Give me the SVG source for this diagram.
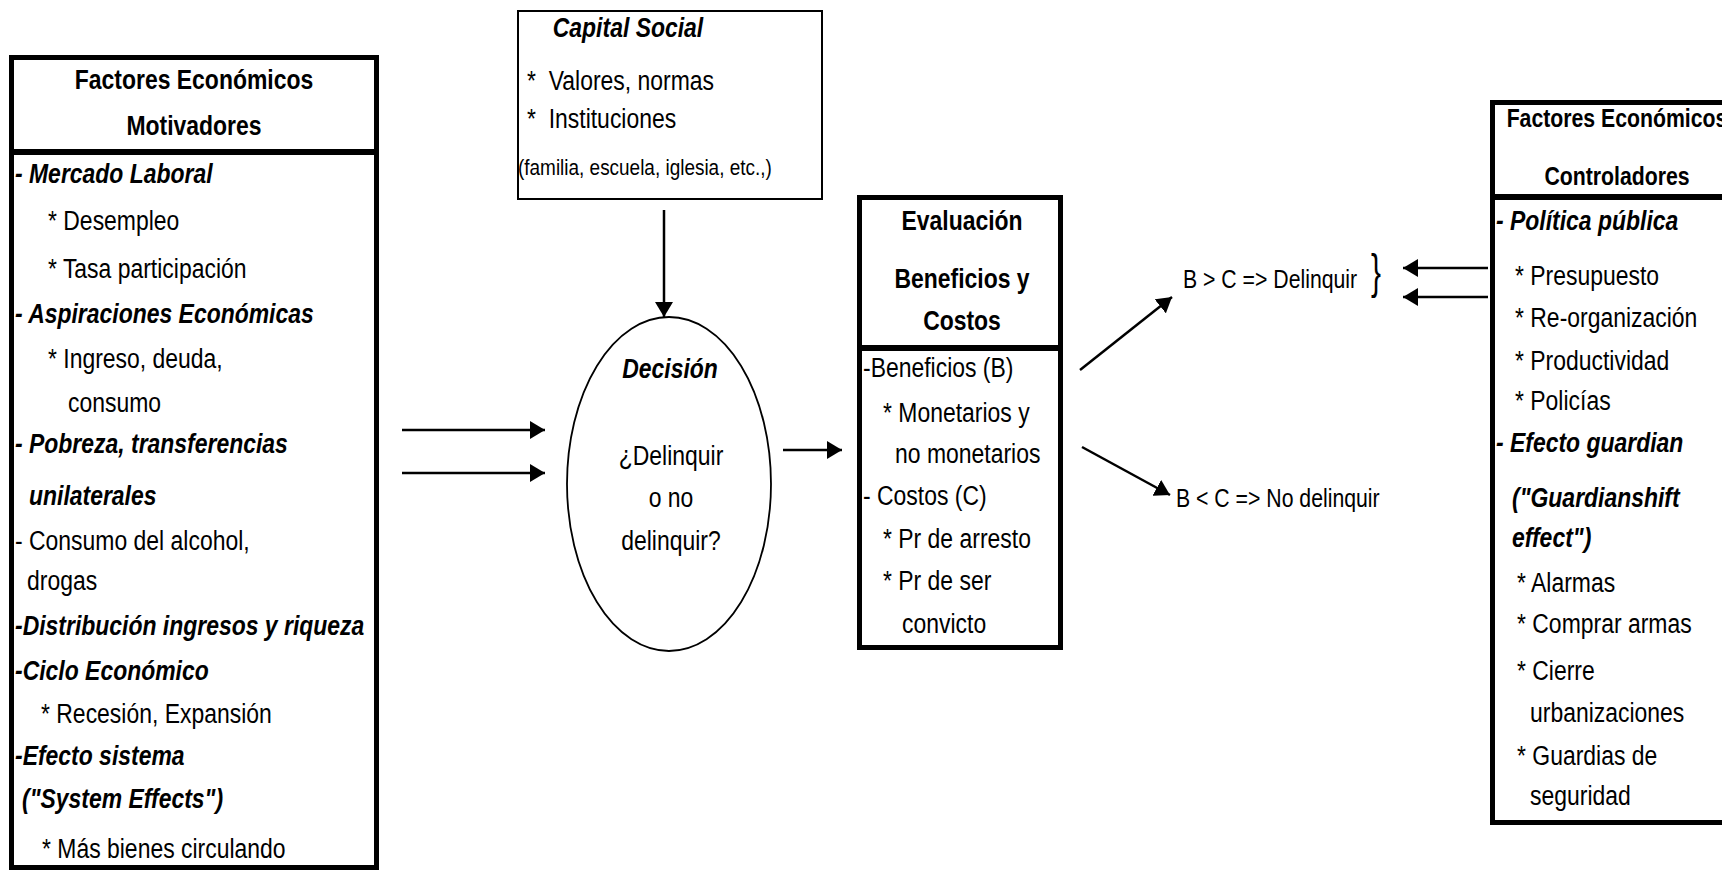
<svg xmlns="http://www.w3.org/2000/svg" width="1722" height="872" viewBox="0 0 1722 872">
<style>
text{font-family:"Liberation Sans",Arial,sans-serif;font-size:27px;fill:#000}
.b{font-weight:bold}
.bi{font-weight:bold;font-style:italic}
.m{text-anchor:middle}
.s{font-size:25px}
.xs{font-size:22.3px}
.box{fill:#fff;stroke:#000;stroke-width:5}
.thin{fill:#fff;stroke:#000;stroke-width:2}
.ln{fill:none;stroke:#000;stroke-width:2.5}
.conn line{stroke:#000;stroke-width:2.5;marker-end:url(#ah)}
</style>
<defs>
<marker id="ah" markerUnits="userSpaceOnUse" markerWidth="16" markerHeight="18" refX="15" refY="9" orient="auto">
<path d="M0,0 L15,9 L0,18 Z" fill="#000"/>
</marker>
</defs>
<rect width="1722" height="872" fill="#fff"/>

<g id="motivadores">
<rect class="box" x="11.5" y="57.5" width="365" height="810"/>
<line class="ln" x1="11.5" y1="152" x2="376.5" y2="152" style="stroke-width:6"/>
<text class="b m" transform="translate(194,89) scale(.85,1)">Factores Económicos</text>
<text class="b m" transform="translate(194,135) scale(.85,1)">Motivadores</text>
<text class="bi" transform="translate(15,183) scale(.85,1)">- Mercado Laboral</text>
<text transform="translate(48,230) scale(.85,1)">* Desempleo</text>
<text transform="translate(48,278) scale(.85,1)">* Tasa participación</text>
<text class="bi" transform="translate(15,323) scale(.85,1)">- Aspiraciones Económicas</text>
<text transform="translate(48,368) scale(.85,1)">* Ingreso, deuda,</text>
<text transform="translate(68,412) scale(.85,1)">consumo</text>
<text class="bi" transform="translate(15,453) scale(.85,1)">- Pobreza, transferencias</text>
<text class="bi" transform="translate(29,505) scale(.85,1)">unilaterales</text>
<text transform="translate(15,550) scale(.85,1)">- Consumo del alcohol,</text>
<text transform="translate(27,590) scale(.85,1)">drogas</text>
<text class="bi" transform="translate(15,635) scale(.85,1)">-Distribución ingresos y riqueza</text>
<text class="bi" transform="translate(15,680) scale(.85,1)">-Ciclo Económico</text>
<text transform="translate(41,723) scale(.85,1)">* Recesión, Expansión</text>
<text class="bi" transform="translate(15,765) scale(.85,1)">-Efecto sistema</text>
<text class="bi" transform="translate(22,808) scale(.85,1)">("System Effects")</text>
<text transform="translate(42,858) scale(.85,1)">* Más bienes circulando</text>
</g>

<g id="capital-social">
<rect class="thin" x="518" y="11" width="304" height="188"/>
<text class="bi m" transform="translate(628,37) scale(.85,1)">Capital Social</text>
<text transform="translate(527,90) scale(.85,1)">*&#160; Valores, normas</text>
<text transform="translate(527,128) scale(.85,1)">*&#160; Instituciones</text>
<text class="xs" transform="translate(518,175) scale(.85,1)">(familia, escuela, iglesia, etc.,)</text>
</g>

<g id="decision">
<ellipse cx="669" cy="484" rx="102" ry="167" fill="#fff" stroke="#000" stroke-width="1.8"/>
<text class="bi m" transform="translate(670,378) scale(.85,1)">Decisión</text>
<text class="m" transform="translate(671,465) scale(.85,1)">¿Delinquir</text>
<text class="m" transform="translate(671,507) scale(.85,1)">o no</text>
<text class="m" transform="translate(671,550) scale(.85,1)">delinquir?</text>
</g>

<g id="evaluacion">
<rect class="box" x="859.5" y="197.5" width="201" height="450"/>
<line class="ln" x1="859.5" y1="348" x2="1060.5" y2="348" style="stroke-width:6"/>
<text class="b m" transform="translate(962,230) scale(.85,1)">Evaluación</text>
<text class="b m" transform="translate(962,288) scale(.85,1)">Beneficios y</text>
<text class="b m" transform="translate(962,330) scale(.85,1)">Costos</text>
<text transform="translate(863,377) scale(.85,1)">-Beneficios (B)</text>
<text transform="translate(883,422) scale(.85,1)">* Monetarios y</text>
<text transform="translate(895,463) scale(.85,1)">no monetarios</text>
<text transform="translate(863,505) scale(.85,1)">- Costos (C)</text>
<text transform="translate(883,548) scale(.85,1)">* Pr de arresto</text>
<text transform="translate(883,590) scale(.85,1)">* Pr de ser</text>
<text transform="translate(902,633) scale(.85,1)">convicto</text>
</g>

<g id="resultados">
<text class="s" transform="translate(1183,288) scale(.85,1)">B &gt; C =&gt; Delinquir</text>
<text transform="translate(1371,288) scale(.62,1)" style="font-size:48px">}</text>
<text class="s" transform="translate(1176,507) scale(.85,1)">B &lt; C =&gt; No delinquir</text>
</g>

<g id="controladores">
<rect class="box" x="1492.5" y="102.5" width="260" height="720"/>
<line class="ln" x1="1492.5" y1="197" x2="1722" y2="197" style="stroke-width:6"/>
<text class="b m s" transform="translate(1617,127) scale(.85,1)">Factores Económicos</text>
<text class="b m s" transform="translate(1617,185) scale(.85,1)">Controladores</text>
<text class="bi" transform="translate(1496,230) scale(.85,1)">- Política pública</text>
<text transform="translate(1515,285) scale(.85,1)">* Presupuesto</text>
<text transform="translate(1515,327) scale(.85,1)">* Re-organización</text>
<text transform="translate(1515,370) scale(.85,1)">* Productividad</text>
<text transform="translate(1515,410) scale(.85,1)">* Policías</text>
<text class="bi" transform="translate(1496,452) scale(.85,1)">- Efecto guardian</text>
<text class="bi" transform="translate(1512,507) scale(.85,1)">("Guardianshift</text>
<text class="bi" transform="translate(1512,547) scale(.85,1)">effect")</text>
<text transform="translate(1517,592) scale(.85,1)">* Alarmas</text>
<text transform="translate(1517,633) scale(.85,1)">* Comprar armas</text>
<text transform="translate(1517,680) scale(.85,1)">* Cierre</text>
<text transform="translate(1530,722) scale(.85,1)">urbanizaciones</text>
<text transform="translate(1517,765) scale(.85,1)">* Guardias de</text>
<text transform="translate(1530,805) scale(.85,1)">seguridad</text>
</g>

<g id="connectors" class="conn">
<line x1="664" y1="210" x2="664" y2="317"/>
<line x1="402" y1="430" x2="545" y2="430"/>
<line x1="402" y1="473" x2="545" y2="473"/>
<line x1="783" y1="450" x2="842" y2="450"/>
<line x1="1080" y1="370" x2="1172" y2="297"/>
<line x1="1082" y1="447" x2="1170" y2="495"/>
<line x1="1488" y1="268" x2="1403" y2="268"/>
<line x1="1488" y1="297" x2="1403" y2="297"/>
</g>
</svg>
